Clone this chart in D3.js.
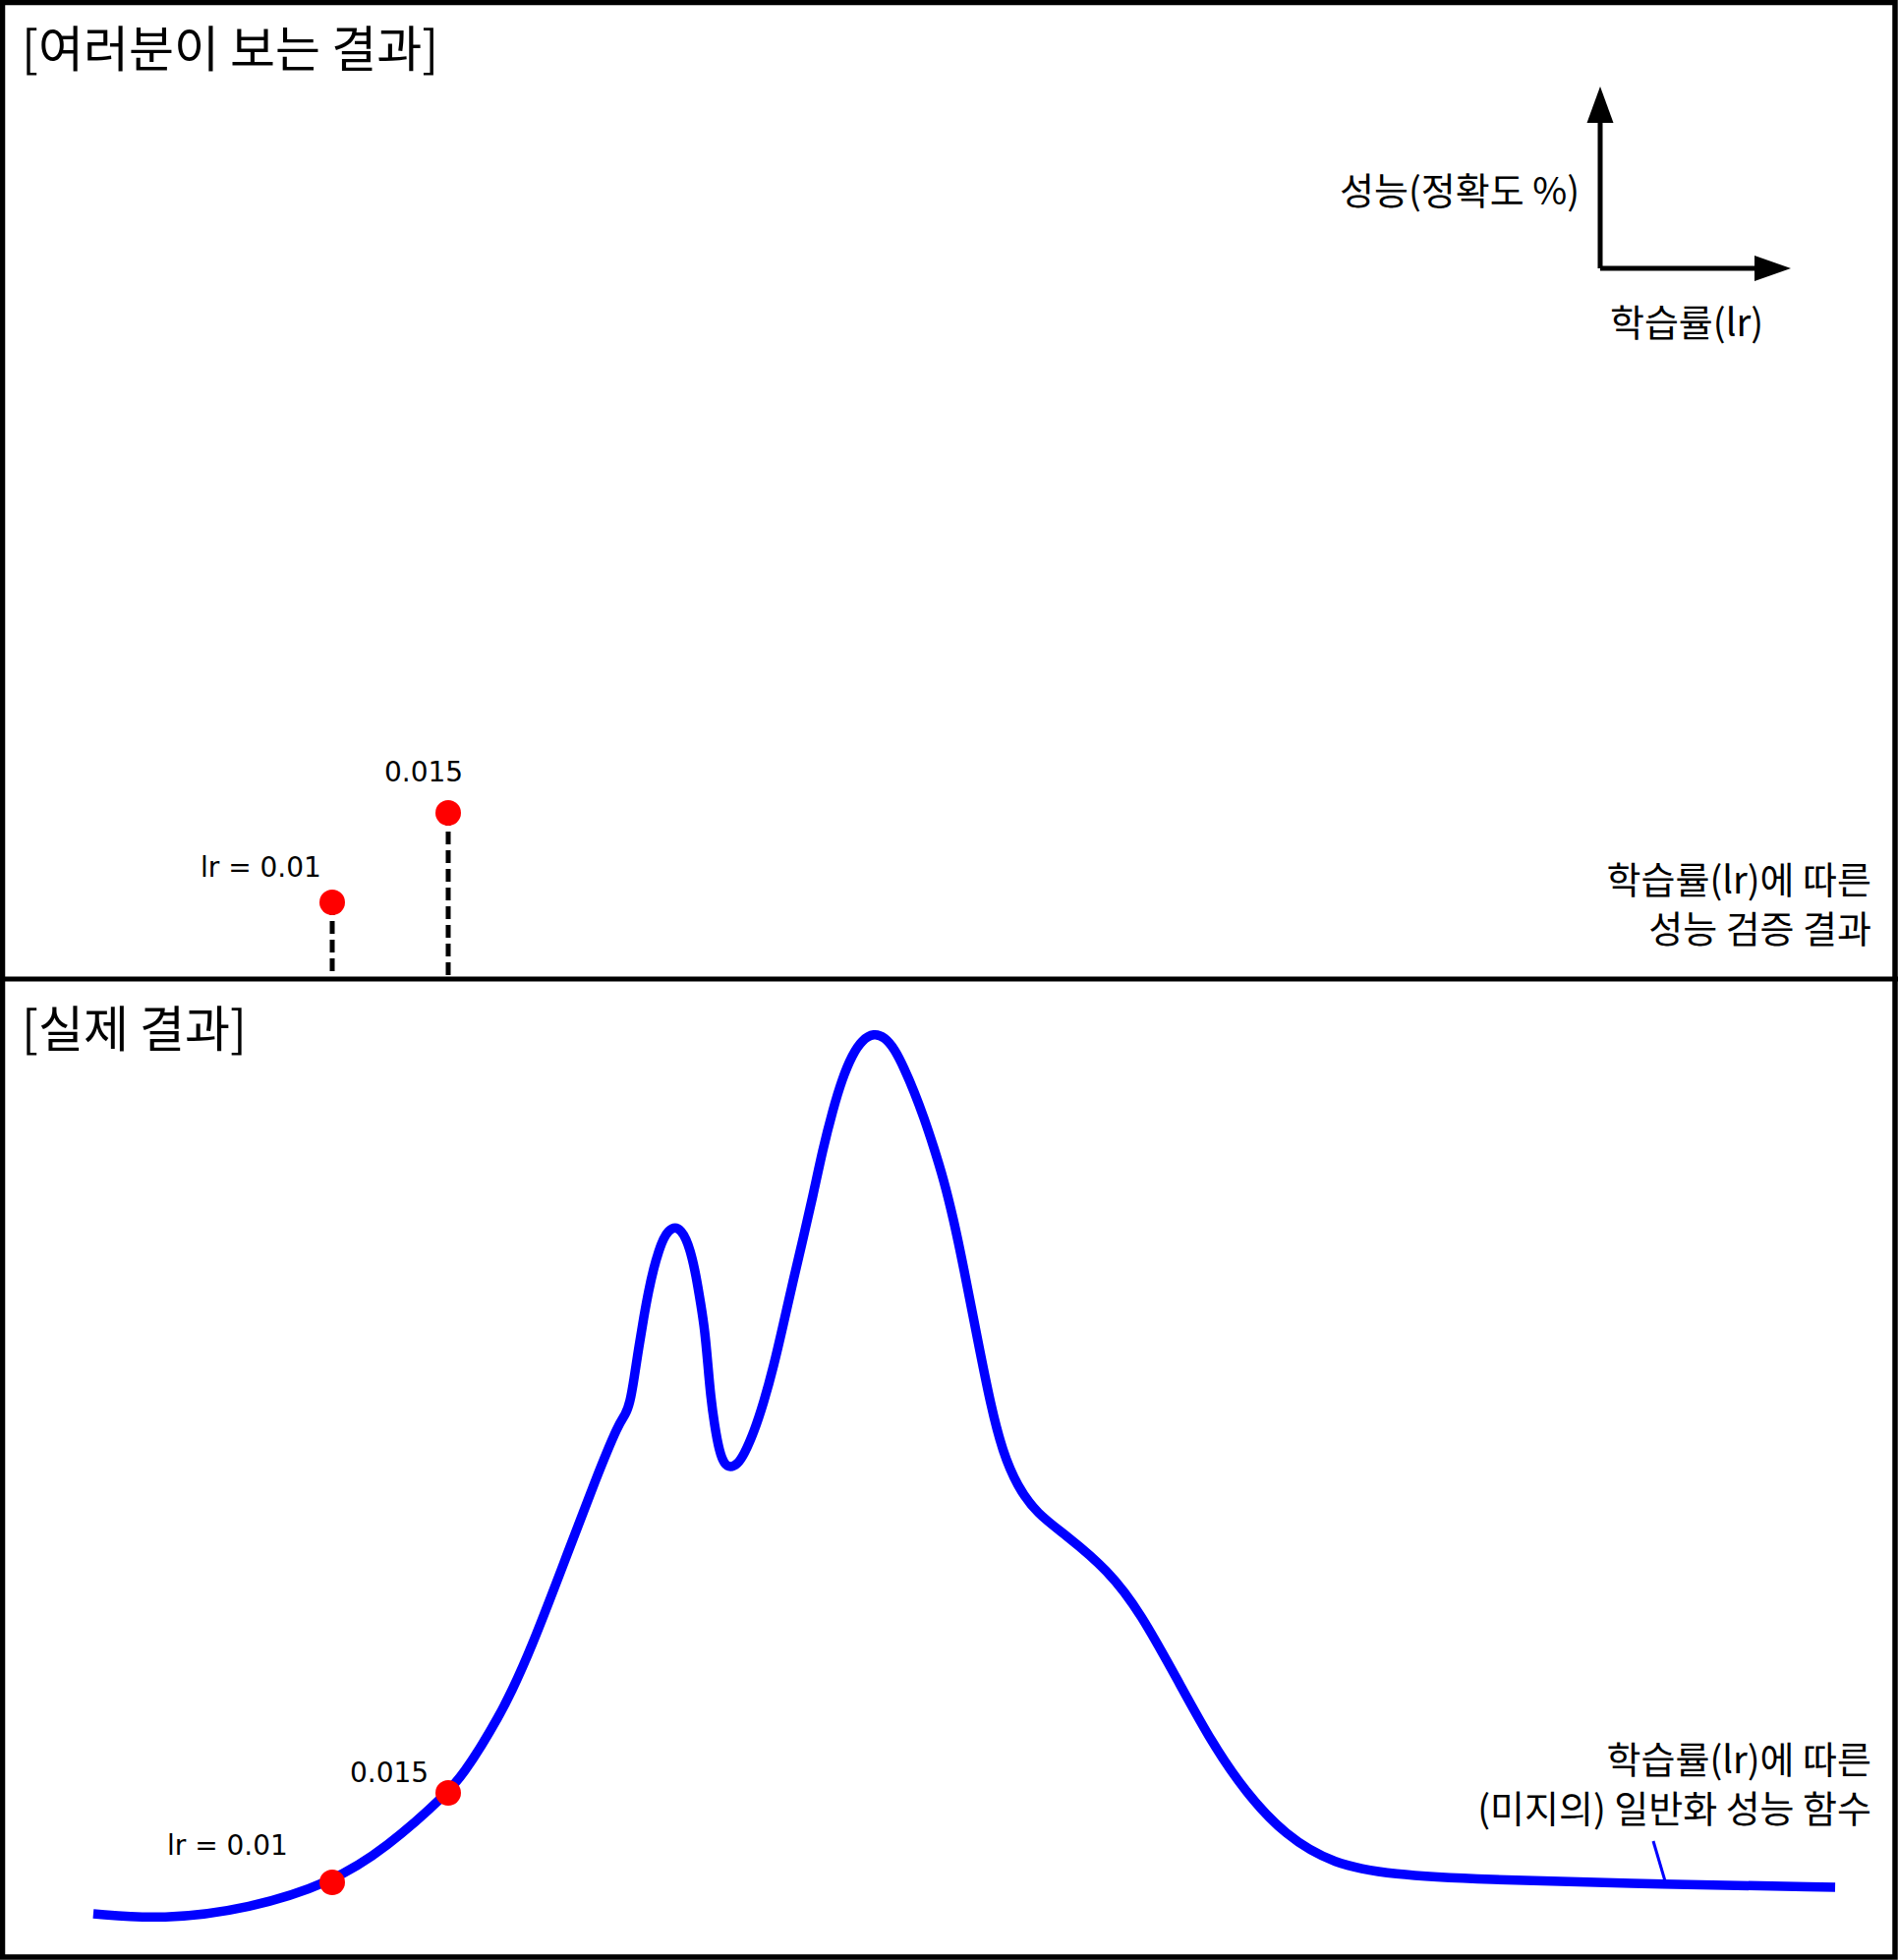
<!DOCTYPE html>
<html><head><meta charset="utf-8">
<script src="https://cdn.jsdelivr.net/npm/d3@7"></script>
<style>html,body{margin:0;padding:0;background:#fff}svg{display:block}</style>
</head><body>
<script>
// learning rate (x) and schematic generalisation performance (y, accuracy %)
const curveLr = [-0.0003,0.00267,0.00644,0.0100,0.01233,0.0150,0.01572,0.01644,0.01716,0.01771,0.01856,0.01996,0.02140,0.02237,0.02263,0.02284,0.02301,0.02322,0.02343,0.02364,0.02386,0.02407,0.02428,0.02449,0.02479,0.02504,0.02525,0.02547,0.02568,0.02589,0.02606,0.02619,0.02631,0.02648,0.02669,0.02691,0.02716,0.02746,0.02775,0.02818,0.02860,0.02903,0.02945,0.02987,0.03030,0.03072,0.03114,0.03157,0.03199,0.03242,0.03284,0.03335,0.03381,0.03424,0.03466,0.03508,0.03551,0.03593,0.03636,0.03678,0.03720,0.03784,0.03839,0.03890,0.03953,0.04038,0.04165,0.04343,0.04483,0.04653,0.04792,0.04936,0.05106,0.05318,0.05572,0.05924,0.06750,0.07479];
const curvePerf = [5.3,4.7,5.8,8.5,12.0,17.6,19.8,22.4,25.3,27.8,32.2,40.8,49.8,55.3,56.0,57.3,59.7,63.0,66.0,68.7,71.0,72.7,74.0,74.8,75.2,74.8,74.0,72.5,70.3,67.3,64.7,61.3,58.0,55.0,52.3,51.0,50.7,51.0,52.0,54.3,57.3,61.0,65.3,69.7,74.0,78.3,83.0,87.0,90.3,92.7,94.2,94.9,94.5,93.3,91.3,89.0,86.3,83.3,80.0,76.0,71.3,63.5,57.0,52.3,48.8,46.0,43.8,40.3,36.0,28.7,22.7,17.7,13.3,10.3,9.3,8.8,8.3,8.0];
const sampleLr = [0.01, 0.015];
const samplePerf = [8.5, 17.6];
const topSampleLabels = ["lr = 0.01", "0.015"];
const bottomSampleLabels = ["lr = 0.01", "0.015"];
const panelTitles = ["[여러분이 보는 결과]", "[실제 결과]"];
const axisLabels = ["성능(정확도 %)", "학습률(lr)"];
const topNote = ["학습률(lr)에 따른", "성능 검증 결과"];
const bottomNote = ["학습률(lr)에 따른", "(미지의) 일반화 성능 함수"];

const W = 1931, H = 1994, PANEL = 997;
const KR = "'Noto Sans CJK KR', 'Noto Sans', sans-serif";
const NUM = "'DejaVu Sans', sans-serif";

const svg = d3.select("body").append("svg").attr("width", W).attr("height", H);
svg.append("rect").attr("width", W).attr("height", H).attr("fill", "#fff");

const x = d3.scaleLinear().domain([0, 0.075]).range([102, 1872]);
const yBottom = d3.scaleLinear().domain([0, 100]).range([2000, 1000]);
const yTop = d3.scaleLinear().domain([0, 100]).range([2000 - PANEL, 1000 - PANEL]);

// frame
svg.append("rect").attr("x", 2.5).attr("y", 2.5).attr("width", W - 5.5).attr("height", H - 5.5)
  .attr("fill", "none").attr("stroke", "#000").attr("stroke-width", 5.5);
svg.append("line").attr("x1", 0).attr("x2", W).attr("y1", 996).attr("y2", 996)
  .attr("stroke", "#000").attr("stroke-width", 5);

// titles
svg.append("text").attr("x", 22).attr("y", 68).text(panelTitles[0])
  .attr("font-family", KR).attr("font-size", 50).attr("fill", "#000");
svg.append("text").attr("x", 22).attr("y", 68 + PANEL).text(panelTitles[1])
  .attr("font-family", KR).attr("font-size", 50).attr("fill", "#000");

// axis icon
const ax = svg.append("g");
ax.append("path").attr("d", "M1628,273 L1628,118 M1628,273 L1790,273")
  .attr("stroke", "#000").attr("stroke-width", 5).attr("fill", "none");
ax.append("path").attr("d", "M1628,88 L1641.5,125 L1614.5,125 Z").attr("fill", "#000");
ax.append("path").attr("d", "M1822,273 L1785,260 L1785,286 Z").attr("fill", "#000");
ax.append("text").attr("x", 1607).attr("y", 208).attr("text-anchor", "end").text(axisLabels[0])
  .attr("font-family", KR).attr("font-size", 38);
ax.append("text").attr("x", 1716).attr("y", 342).attr("text-anchor", "middle").text(axisLabels[1])
  .attr("font-family", KR).attr("font-size", 38);

// notes
function note(lines, y0) {
  lines.forEach((t, i) => svg.append("text").attr("x", 1904).attr("y", y0 + i * 50)
    .attr("text-anchor", "end").text(t).attr("font-family", KR).attr("font-size", 38));
}
note(topNote, 909);
note(bottomNote, 1804);

// bottom curve
const line = d3.line().x(d => x(d[0])).y(d => yBottom(d[1])).curve(d3.curveBasis);
svg.append("path").datum(d3.zip(curveLr, curvePerf)).attr("d", line)
  .attr("fill", "none").attr("stroke", "#0000ff").attr("stroke-width", 9.5)
  .attr("stroke-linejoin", "round");

// pointer to curve
svg.append("line").attr("x1", 1682).attr("y1", 1873).attr("x2", 1695).attr("y2", 1917)
  .attr("stroke", "#0000ff").attr("stroke-width", 3);

// top panel: sampled points with dashed stems
const samples = d3.zip(sampleLr, samplePerf);
svg.selectAll(".stem").data(samples).enter().append("line")
  .attr("x1", d => x(d[0])).attr("x2", d => x(d[0]))
  .attr("y1", d => yTop(d[1])).attr("y2", 994)
  .attr("stroke", "#000").attr("stroke-width", 5).attr("stroke-dasharray", "13,6");
svg.selectAll(".tdot").data(samples).enter().append("circle")
  .attr("cx", d => x(d[0])).attr("cy", d => yTop(d[1])).attr("r", 13).attr("fill", "#ff0000");
const topOff = [[-134, -26], [-65, -32]];
svg.selectAll(".tlab").data(samples).enter().append("text")
  .attr("x", (d, i) => x(d[0]) + topOff[i][0]).attr("y", (d, i) => yTop(d[1]) + topOff[i][1])
  .text((d, i) => topSampleLabels[i]).attr("font-family", NUM).attr("font-size", 28);

// bottom dots
svg.selectAll(".bdot").data(samples).enter().append("circle")
  .attr("cx", d => x(d[0])).attr("cy", d => yBottom(d[1])).attr("r", 13).attr("fill", "#ff0000");
const botOff = [[-168, -28], [-100, -11]];
svg.selectAll(".blab").data(samples).enter().append("text")
  .attr("x", (d, i) => x(d[0]) + botOff[i][0]).attr("y", (d, i) => yBottom(d[1]) + botOff[i][1])
  .text((d, i) => bottomSampleLabels[i]).attr("font-family", NUM).attr("font-size", 28);
</script>
</body></html>
